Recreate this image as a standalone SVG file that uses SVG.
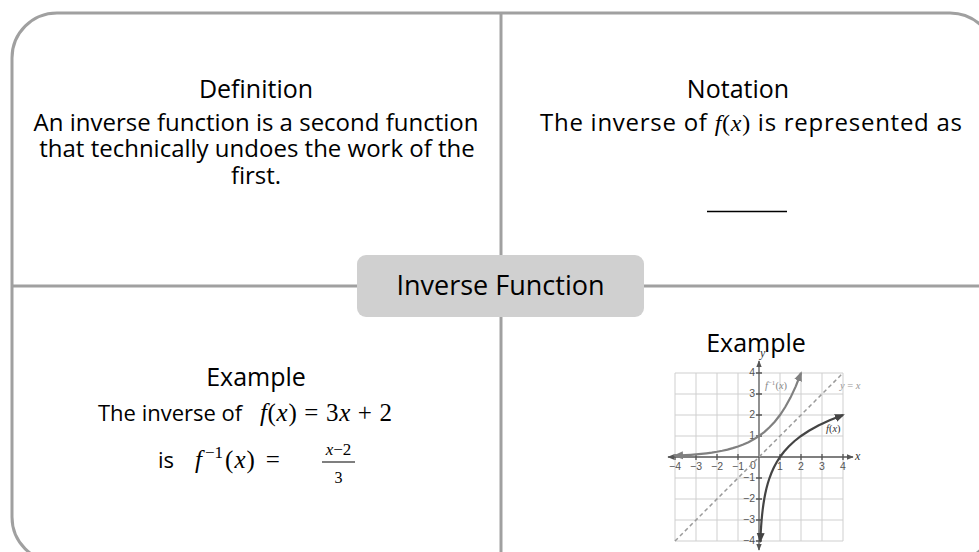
<svg xmlns="http://www.w3.org/2000/svg" width="979" height="552" viewBox="0 0 979 552">
<style>
.line{fill:none;stroke:#a0a0a0;stroke-width:3}
.sans{font-family:"Open Sans","Noto Sans",sans-serif;fill:#000}
.head{font-size:25px}
.body{font-size:24px}
.mi{font-family:"Liberation Serif","DejaVu Serif",serif;font-style:italic}
.mr{font-family:"Liberation Serif","DejaVu Serif",serif;font-style:normal}
.grid{stroke:#cfcfcf;stroke-width:1;fill:none}
.axis{stroke:#555;stroke-width:1.3;fill:none}
.tick{font-family:"Liberation Sans",Arial,sans-serif;font-size:10.5px;fill:#555}
</style>
<defs>
<marker id="ahAxis" viewBox="0 0 10 10" refX="9" refY="5" markerWidth="7" markerHeight="7" markerUnits="userSpaceOnUse" orient="auto-start-reverse"><path d="M0,1 L10,5 L0,9 z" fill="#555"/></marker>
<marker id="ahDark" viewBox="0 0 10 10" refX="8" refY="5" markerWidth="10" markerHeight="10" markerUnits="userSpaceOnUse" orient="auto-start-reverse"><path d="M0,1 L10,5 L0,9 z" fill="#444"/></marker>
<marker id="ahMid" viewBox="0 0 10 10" refX="8" refY="5" markerWidth="10" markerHeight="10" markerUnits="userSpaceOnUse" orient="auto-start-reverse"><path d="M0,1 L10,5 L0,9 z" fill="#808080"/></marker>
</defs>
<rect width="979" height="552" fill="#fff"/>
<rect id="frame" class="line" x="12" y="13" width="983" height="549" rx="45" ry="45"/>
<g id="connectors" class="line">
<line x1="501" y1="13" x2="501" y2="255"/>
<line x1="501" y1="317" x2="501" y2="562"/>
<line x1="12" y1="286" x2="357" y2="286"/>
<line x1="644" y1="286" x2="995" y2="286"/>
</g>
<g id="node-center">
<rect x="357" y="255" width="287" height="62" rx="9" ry="9" fill="#d0d0d0"/>
<text class="sans" x="500.5" y="295" font-size="27" text-anchor="middle">Inverse Function</text>
</g>
<g id="node-definition" class="sans" text-anchor="middle">
<text class="head" x="256" y="98">Definition</text>
<text class="body" x="256" y="131">An inverse function is a second function</text>
<text class="body" x="257" y="157">that technically undoes the work of the</text>
<text class="body" x="256" y="184">first.</text>
</g>
<g id="node-notation" class="sans">
<text class="head" x="738" y="98" text-anchor="middle">Notation</text>
<text class="body" x="540" y="131" textLength="422" lengthAdjust="spacing">The inverse of <tspan class="mi">f</tspan><tspan class="mr">(</tspan><tspan class="mi">x</tspan><tspan class="mr">)</tspan> is represented as</text>
<line x1="707" y1="211.5" x2="787" y2="211.5" stroke="#000" stroke-width="1.3"/>
</g>
<g id="node-example-left" class="sans">
<text class="head" x="256" y="386" font-size="26" text-anchor="middle">Example</text>
<text x="98" y="421" font-size="22">The inverse of</text>
<text x="260" y="421" font-size="25" textLength="132" lengthAdjust="spacing"><tspan class="mi">f</tspan><tspan class="mr">(</tspan><tspan class="mi">x</tspan><tspan class="mr">) = 3</tspan><tspan class="mi">x</tspan><tspan class="mr"> + 2</tspan></text>
<text x="158" y="468" font-size="22">is</text>
<text x="195" y="468" font-size="25"><tspan class="mi">f</tspan><tspan class="mr" font-size="17" dx="3" dy="-10">−1</tspan><tspan class="mr" dy="10" dx="2">(</tspan><tspan class="mi" dx="1">x</tspan><tspan class="mr" dx="1">)</tspan><tspan class="mr" dx="11">=</tspan></text>
<text x="338.5" y="455" font-size="17" text-anchor="middle"><tspan class="mi">x</tspan><tspan class="mr">−2</tspan></text>
<line x1="322" y1="462" x2="355" y2="462" stroke="#000" stroke-width="1.2"/>
<text x="338.5" y="483" font-size="16" text-anchor="middle" class="mr">3</text>
</g>
<g id="node-example-right">
<g class="grid">
<path d="M675,373V541M696,373V541M717,373V541M738,373V541M780,373V541M801,373V541M822,373V541M843,373V541"/>
<path d="M675,373H843M675,394H843M675,415H843M675,436H843M675,478H843M675,499H843M675,520H843M675,541H843"/>
</g>
<line class="axis" x1="668" y1="457" x2="853" y2="457" marker-start="url(#ahAxis)" marker-end="url(#ahAxis)"/>
<line class="axis" x1="759" y1="361" x2="759" y2="550" marker-start="url(#ahAxis)" marker-end="url(#ahAxis)"/>
<path class="axis" d="M675,454V460M696,454V460M717,454V460M738,454V460M780,454V460M801,454V460M822,454V460M843,454V460M756,373H762M756,394H762M756,415H762M756,436H762M756,478H762M756,499H762M756,520H762M756,541H762"/>
<g class="tick" text-anchor="middle">
<text x="675" y="470">−4</text><text x="696" y="470">−3</text><text x="717" y="470">−2</text><text x="738" y="470">−1</text>
<text x="753" y="469">0</text>
<text x="780" y="470">1</text><text x="801" y="470">2</text><text x="822" y="470">3</text><text x="843" y="470">4</text>
</g>
<g class="tick" text-anchor="end">
<text x="755" y="376">4</text><text x="755" y="397">3</text><text x="755" y="418">2</text><text x="755" y="439">1</text>
<text x="755" y="481">−1</text><text x="755" y="502">−2</text><text x="755" y="523">−3</text><text x="755" y="544">−4</text>
</g>
<text class="mi" x="855" y="460" font-size="12" fill="#333">x</text>
<text class="mi" x="760" y="357" font-size="12" fill="#333">y</text>
<line x1="675" y1="541" x2="843" y2="373" stroke="#9a9a9a" stroke-width="1.5" stroke-dasharray="4 3"/>
<polyline fill="none" stroke="#444" stroke-width="2.2" marker-start="url(#ahDark)" marker-end="url(#ahDark)" points="760.31,541 760.56,535.75 760.86,530.5 761.21,525.25 761.63,520 762.12,514.75 762.71,509.5 763.41,504.25 764.25,499 765.24,493.75 766.43,488.5 767.83,483.25 769.5,478 771.49,472.75 773.85,467.5 776.66,462.25 780,457 783.97,451.75 788.7,446.5 794.32,441.25 801,436 808.95,430.75 818.4,425.5 829.64,420.25 843,415"/>
<polyline fill="none" stroke="#808080" stroke-width="2.2" marker-start="url(#ahMid)" marker-end="url(#ahMid)" points="675,455.69 680.25,455.44 685.5,455.14 690.75,454.79 696,454.38 701.25,453.88 706.5,453.29 711.75,452.59 717,451.75 722.25,450.76 727.5,449.57 732.75,448.17 738,446.5 743.25,444.51 748.5,442.15 753.75,439.34 759,436 764.25,432.03 769.5,427.3 774.75,421.68 780,415 785.25,407.05 790.5,397.6 795.75,386.36 801,373"/>
<text class="mi" x="765" y="389" font-size="10.5" fill="#888">f<tspan class="mr" font-size="7" dy="-4">−1</tspan><tspan class="mr" dy="4">(</tspan>x<tspan class="mr">)</tspan></text>
<text class="mi" x="826" y="432" font-size="10.5" fill="#333">f<tspan class="mr">(</tspan>x<tspan class="mr">)</tspan></text>
<text class="mi" x="840" y="389" font-size="10.5" fill="#999">y<tspan class="mr"> = </tspan>x</text>
<text class="sans head" x="756" y="352" text-anchor="middle">Example</text>
</g>
</svg>
